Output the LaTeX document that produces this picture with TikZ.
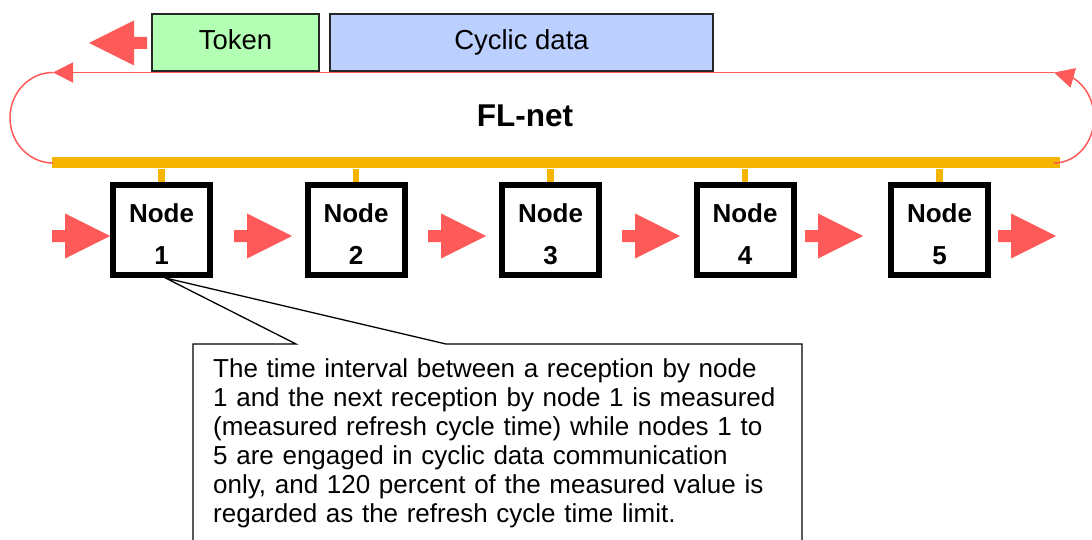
\documentclass[tikz,border=0pt]{standalone}
\usepackage{fontspec}
\setmainfont{Liberation Sans}
\usetikzlibrary{arrows.meta,bending,calc}
\definecolor{flred}{RGB}{255,90,90}
\definecolor{flyel}{RGB}{245,180,0}
\definecolor{tokgreen}{RGB}{179,255,179}
\definecolor{cycblue}{RGB}{187,208,255}
\begin{document}
\begin{tikzpicture}[x=1pt,y=-1pt,
  nodebox/.style={draw=black,line width=6pt,minimum width=97pt,minimum height=90pt,
    inner sep=0pt,font=\fontsize{26}{42}\selectfont\bfseries,align=center,
    text height=69pt,text depth=0pt},
  databox/.style={draw=black!85,line width=2pt,minimum height=57pt,inner sep=0pt,
    font=\fontsize{27.5}{30}\selectfont,text height=20pt,text depth=5pt},
  ring/.style={draw=flred,line width=1.5pt},
  ringtip/.style={-{Triangle[length=20pt,width=20pt,flex]}},
  stub/.style={draw=flyel,line width=6.5pt},
  calloutline/.style={draw=black,line width=1.3pt},
  pics/blockarrow/.style={code={
    \fill[flred] (0,-6) -- (13,-6) -- (13,-22.5) -- (58,0) -- (13,22.5) -- (13,6) -- (0,6) -- cycle;}},
]
\useasboundingbox (0,0) rectangle (1092,540);
\clip (0,0) rectangle (1092,540);

% bus bar
\node[fill=flyel,minimum width=1008pt,minimum height=11pt,inner sep=0pt] (bar) at (556,163) {};

% ring
\coordinate (ltop) at (53,72.5);
\coordinate (rtop) at (1054,72.5);
\coordinate (rbot) at (1054,163);
\draw[ring] (ltop) arc[start angle=270,end angle=90,x radius=43,y radius=45.25];
\draw[ring,ringtip] (rbot) arc[start angle=90,end angle=-90,x radius=40,y radius=45.25];
\draw[ring,ringtip] (rtop) -- (ltop);

% frames
\node[databox,fill=tokgreen,minimum width=167pt] (tok) at (235.5,42.5) {Token};
\node[databox,fill=cycblue,minimum width=383pt] (cyc) at (521.5,42.5) {Cyclic data};
\pic[xscale=-1] at (147,43) {blockarrow};

\node[font=\fontsize{31.5}{36}\selectfont\bfseries] (fl) at (525,116) {FL-net};

% nodes
\foreach \i/\x in {1/161.5,2/356,3/550.5,4/745,5/939.5}{
  \node[nodebox] (n\i) at (\x,230) {Node\\\i};
  \draw[stub] (n\i.north) -- (n\i.north |- bar.south);
}
\foreach \x in {52,234,428,622,805,998}
  \pic at (\x,236) {blockarrow};

% callout
\coordinate (cp) at ($(n1.south)+(4,0)$);
\draw[calloutline] (193,560) -- (193,344) -- (296,344) -- (cp) -- (446,344) -- (802,344) -- (802,560);
\node[anchor=north west,inner sep=0pt,text width=600pt,align=left,
  font=\fontsize{26}{28.9}\selectfont] (note) at (213,358.7)
  {The time interval between a reception by node\\
   1 and the next reception by node 1 is measured\\
   (measured refresh cycle time) while nodes 1 to\\
   5 are engaged in cyclic data communication\\
   only, and 120 percent of the measured value is\\
   regarded as the refresh cycle time limit.};
\end{tikzpicture}
\end{document}
